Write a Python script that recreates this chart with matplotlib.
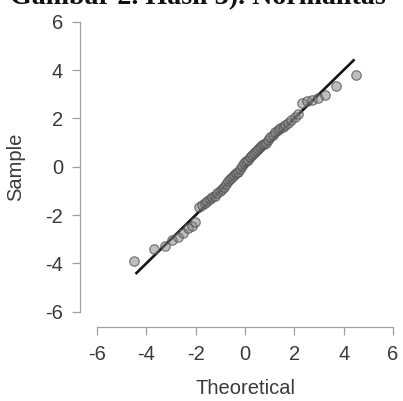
import matplotlib
matplotlib.use("Agg")
import matplotlib.pyplot as plt

# Data
theoretical = [-4.50, -3.68, -3.26, -2.95, -2.71, -2.50, -2.32, -2.16, -2.02, -1.88,
               -1.76, -1.64, -1.53, -1.42, -1.32, -1.22, -1.12, -1.03, -0.94, -0.85,
               -0.77, -0.68, -0.60, -0.52, -0.44, -0.36, -0.28, -0.20, -0.12, -0.04,
               0.04, 0.12, 0.20, 0.28, 0.36, 0.44, 0.52, 0.60, 0.68, 0.77,
               0.85, 0.94, 1.03, 1.12, 1.22, 1.32, 1.42, 1.53, 1.64, 1.76,
               1.88, 2.02, 2.16, 2.32, 2.50, 2.71, 2.95, 3.26, 3.68, 4.52]
sample = [-3.89, -3.42, -3.30, -3.05, -2.90, -2.75, -2.55, -2.45, -2.30, -1.68,
          -1.60, -1.52, -1.42, -1.32, -1.26, -1.20, -1.10, -1.00, -0.92, -0.85,
          -0.72, -0.60, -0.52, -0.42, -0.35, -0.28, -0.20, -0.10, 0.02, 0.15,
          0.22, 0.28, 0.40, 0.50, 0.58, 0.65, 0.72, 0.80, 0.88, 0.93,
          1.00, 1.10, 1.22, 1.32, 1.42, 1.52, 1.60, 1.66, 1.72, 1.82,
          1.93, 2.05, 2.20, 2.62, 2.72, 2.78, 2.85, 2.98, 3.35, 3.80]
ref_line_x = [-4.4, 4.4]
ref_line_y = [-4.4, 4.4]
ticks = [-6, -4, -2, 0, 2, 4, 6]
title_text = "Gambar 2. Hasil 3). Normalitas"

W, H, DPI = 403, 401, 100
fig = plt.figure(figsize=(W / DPI, H / DPI), dpi=DPI)
fig.patch.set_facecolor("white")

plt.rcParams['font.family'] = ['Liberation Sans', 'DejaVu Sans']

ax = fig.add_axes([97 / W, 1 - 311.7 / H, 296 / W, 290 / H])
ax.set_xlim(-6, 6)
ax.set_ylim(-6, 6)

ax.plot(ref_line_x, ref_line_y, color="#141414", lw=1.9, zorder=2)
ax.scatter(theoretical, sample, s=46, facecolor=(0.5, 0.5, 0.5, 0.5),
           edgecolor=(0.3, 0.3, 0.3, 0.7), linewidths=0.9, zorder=3)

axis_col = "#a0a0a0"
text_col = "#3a3a3a"
for s in ("top", "right"):
    ax.spines[s].set_visible(False)
ax.spines["left"].set_position(("outward", 12.2))
ax.spines["bottom"].set_position(("outward", 11.0))
ax.spines["left"].set_bounds(-6, 6)
ax.spines["bottom"].set_bounds(-6, 6)
for s in ("left", "bottom"):
    ax.spines[s].set_color(axis_col)
    ax.spines[s].set_linewidth(0.9)

ax.set_xticks(ticks)
ax.set_yticks(ticks)
ax.set_xticklabels([str(t) for t in ticks])
ax.set_yticklabels([str(t) for t in ticks])
ax.tick_params(axis="both", direction="out", length=5.8, width=0.9,
               color=axis_col, labelcolor=text_col, labelsize=14.5)
ax.tick_params(axis="x", pad=7.5)
ax.tick_params(axis="y", pad=6.5)

ax.set_xlabel("Theoretical", fontsize=14.5, color=text_col, va="center")
ax.xaxis.set_label_coords(0.5, (1 - 388 / H - (1 - 311.7 / H)) / (290 / H))
ax.set_ylabel("Sample", fontsize=14.5, color=text_col, va="center")
ax.yaxis.set_label_coords((16 - 97) / 296, 0.5)

# Clipped caption at the very top of the picture
t = fig.text(10 / W, 1 - 4 / H, title_text, ha="left", va="baseline",
             fontsize=20, fontweight="bold", family=["Liberation Serif", "DejaVu Serif"],
             color="#111111")
fig.canvas.draw()
bb = t.get_window_extent(renderer=fig.canvas.get_renderer())
t.set_fontsize(20 * 377 / bb.width)

fig.savefig("out.png", dpi=DPI, facecolor="white")
